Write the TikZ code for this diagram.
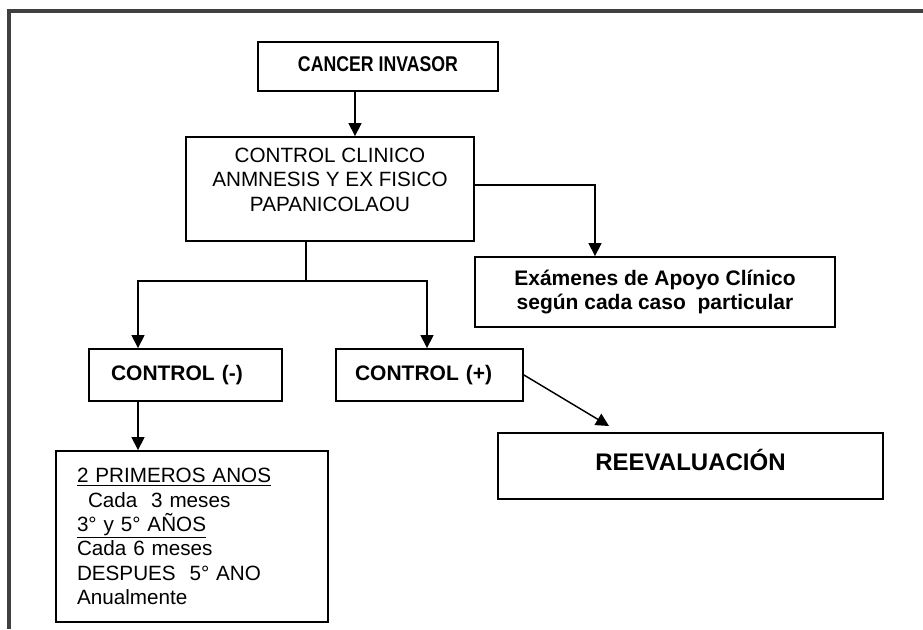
\documentclass[tikz,border=0pt]{standalone}
\usepackage{fontspec}
\setmainfont{Liberation Sans}
\newfontfamily\narrowfont[FakeStretch=0.83]{Liberation Sans}
\usetikzlibrary{arrows.meta}
\tikzset{
  box/.style={draw=black, line width=1.4pt, fill=white, inner sep=0pt},
  conn/.style={draw=black, line width=1.1pt},
  arr/.style={conn, -{Triangle[width=9.75pt,length=9.75pt]}},
  frameline/.style={draw=black!75, line width=2.4pt},
  regtxt/.style={font=\fontsize{15.5pt}{18.2pt}\selectfont},
  boldtxt/.style={font=\fontsize{15.75pt}{17.5pt}\selectfont\bfseries}
}
\begin{document}
\begin{tikzpicture}[x=0.75pt,y=-0.75pt]
\useasboundingbox[fill=white] (0,0) rectangle (923,629);
% outer frame (top and left)
\draw[frameline] (923,11) -- (9,11) -- (9,629);

% nodes
\node[box, minimum width=180pt, minimum height=36.75pt,
      font=\fontsize{16pt}{18pt}\selectfont\narrowfont\bfseries] (ci) at (378,66.5)
  {\raisebox{1.9pt}[\height][\depth]{CANCER INVASOR}};

\node[box, regtxt, minimum width=216pt, minimum height=78pt] (cc) at (330,189)
  {\raisebox{5.25pt}[\height][\depth]{\begin{tabular}{@{}c@{}}CONTROL CLINICO\\ ANMNESIS Y EX FISICO\\ PAPANICOLAOU\end{tabular}}};

\node[box, boldtxt, minimum width=270pt, minimum height=52.5pt, align=center] (ex) at (655,292)
  {Exámenes de Apoyo Clínico\\ según cada caso\ \ particular};

\node[box, boldtxt, minimum height=39pt, text width=111.75pt, inner xsep=16.5pt, align=left] (cm) at (185.5,375)
  {CONTROL (-)};

\node[box, boldtxt, minimum height=39pt, text width=111.75pt, inner xsep=14.25pt, align=left] (cp) at (429.5,375)
  {CONTROL (+)};

\node[box, regtxt, minimum height=128.25pt, text width=172.5pt, inner xsep=15.75pt, align=left] (lb) at (192,536.5)
  {\underline{2 PRIMEROS ANOS}\\
   \hspace*{8.25pt}Cada\ \ 3 meses\\
   \underline{3° y 5° AÑOS}\\
   Cada 6 meses\\
   DESPUES\ \ 5° ANO\\
   Anualmente};

\node[box, minimum width=288.75pt, minimum height=49.5pt,
      font=\fontsize{18pt}{20pt}\selectfont\bfseries] (rv) at (690.5,466)
  {\raisebox{4.5pt}[\height][\depth]{REEVALUACIÓN}};

% helper coordinates
\coordinate (split) at (306,281);
\coordinate (rvin) at (609,426);

% connectors
\draw[arr] (ci.south -| 355,0) -- (cc.north -| 355,0);
\draw[arr] (cc.east |- 0,185) -| (ex.north -| 595,0);
\draw[conn] (cc.south -| split) -- (split);
\draw[arr] (split) -| (cm.north -| 138,0);
\draw[arr] (split) -| (cp.north -| 427,0);
\draw[arr] (cm.south -| 138,0) -- (lb.north -| 138,0);
\draw[arr] (cp.east) -- (rvin);
\end{tikzpicture}
\end{document}
